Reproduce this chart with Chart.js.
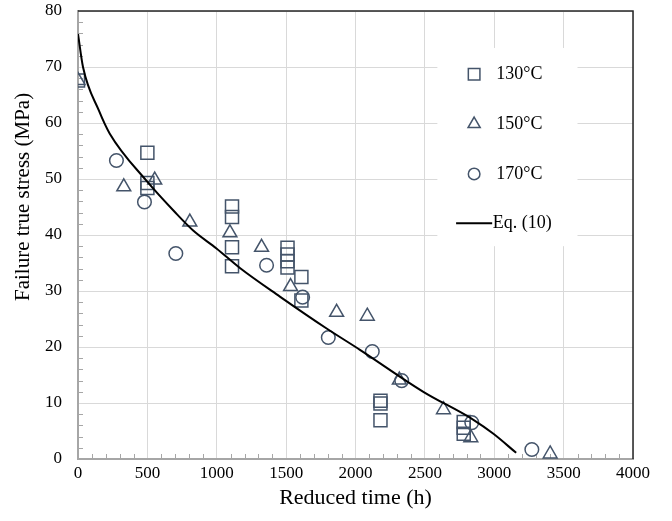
<!DOCTYPE html>
<html>
<head>
<meta charset="utf-8">
<script src="https://cdn.jsdelivr.net/npm/chart.js@4.4.1/dist/chart.umd.min.js"></script>
<style>
  html, body { margin: 0; padding: 0; background: #ffffff; }
  #wrap { width: 672px; height: 521px; }
</style>
</head>
<body>
<div id="wrap"><canvas id="c" width="672" height="521"></canvas></div>
<script>
// ---- Data ----
const seriesLabels = ['130°C', '150°C', '170°C', 'Eq. (10)'];
const xTitle = 'Reduced time (h)';
const yTitle = 'Failure true stress (MPa)';

const time130 = [0, 500, 500, 500, 1110, 1110, 1110, 1110, 1510, 1510, 1510, 1510, 1610, 1610, 2180, 2180, 2180, 2780, 2780, 2780];
const stress130 = [67.6, 54.7, 49.3, 48.4, 45.1, 43.2, 37.8, 34.4, 37.7, 36.5, 35.3, 34.2, 32.5, 28.3, 10.4, 9.9, 6.9, 6.6, 5.6, 4.5];

const time150 = [0, 330, 553, 806, 1095, 1323, 1532, 1864, 2085, 2316, 2634, 2831, 3403];
const stress150 = [67.6, 48.6, 49.8, 42.3, 40.4, 37.8, 30.8, 26.2, 25.5, 14.1, 8.8, 3.8, 0.9];

const time170 = [277, 479, 705, 1359, 1619, 1804, 2121, 2333, 2838, 3271];
const stress170 = [53.3, 45.9, 36.7, 34.6, 28.9, 21.7, 19.2, 14.0, 6.5, 1.7];

const timeEq = [0, 36, 151, 229, 493, 698, 830, 998, 1167, 1455, 1792, 2032, 2489, 2850, 2994, 3158];
const stressEq = [75.9, 70.0, 62.2, 58.1, 49.7, 44.1, 40.8, 37.6, 34.1, 29.0, 23.3, 19.5, 12.0, 7.0, 4.5, 1.1];

const xTickValues = [0, 500, 1000, 1500, 2000, 2500, 3000, 3500, 4000];
const yTickValues = [0, 10, 20, 30, 40, 50, 60, 70, 80];

// ---- Build ----
const toPts = (xs, ys) => xs.map((x, i) => ({ x: x, y: ys[i] }));
const markerColor = '#44546A';
const serif = '"Liberation Serif", "Times New Roman", serif';

const plotDecor = {
  id: 'plotDecor',
  beforeDatasetsDraw(chart) {
    const ctx = chart.ctx;
    const xs = chart.scales.x, ys = chart.scales.y;
    const a = chart.chartArea;
    ctx.save();
    // minor ticks (inside)
    ctx.strokeStyle = '#a6a6a6';
    ctx.lineWidth = 1;
    ctx.beginPath();
    for (let v = 100; v < 4000; v += 100) {
      if (v % 500 === 0) continue;
      const px = Math.round(xs.getPixelForValue(v)) + 0.5;
      ctx.moveTo(px, a.bottom);
      ctx.lineTo(px, a.bottom - 5);
    }
    for (let v = 2; v < 80; v += 2) {
      if (v % 10 === 0) continue;
      const py = Math.round(ys.getPixelForValue(v)) + 0.5;
      ctx.moveTo(a.left, py);
      ctx.lineTo(a.left + 5, py);
    }
    ctx.stroke();
    // top and right frame lines
    ctx.strokeStyle = '#262626';
    ctx.lineWidth = 1.5;
    ctx.beginPath();
    ctx.moveTo(a.left, a.top);
    ctx.lineTo(a.right, a.top);
    ctx.lineTo(a.right, a.bottom);
    ctx.stroke();
    // legend background
    const lx0 = xs.getPixelForValue(2590), lx1 = xs.getPixelForValue(3600);
    const ly0 = ys.getPixelForValue(73.4), ly1 = ys.getPixelForValue(38.0);
    ctx.fillStyle = '#ffffff';
    ctx.fillRect(lx0, ly0, lx1 - lx0, ly1 - ly0);
    // y-axis title (placed as in the reference, above centre)
    ctx.save();
    ctx.translate(23, ys.getPixelForValue(46.8));
    ctx.rotate(-Math.PI / 2);
    ctx.fillStyle = '#000000';
    ctx.font = '21px ' + serif;
    ctx.textAlign = 'center';
    ctx.textBaseline = 'middle';
    ctx.fillText(yTitle, 0, 0);
    ctx.restore();
    ctx.restore();
  },
  afterDatasetsDraw(chart) {
    const ctx = chart.ctx;
    const xs = chart.scales.x, ys = chart.scales.y;
    const markerX = xs.getPixelForValue(2855);
    const textX = xs.getPixelForValue(3015);
    const rowY = [68.7, 59.8, 50.9, 42.1].map(v => ys.getPixelForValue(v));
    const styles = [
      { pointStyle: 'rect', radius: 8.2 },
      { pointStyle: 'triangle', radius: 7 },
      { pointStyle: 'circle', radius: 5.8 }
    ];
    ctx.save();
    for (let i = 0; i < 3; i++) {
      ctx.strokeStyle = markerColor;
      ctx.fillStyle = 'rgba(0,0,0,0)';
      ctx.lineWidth = 1.5;
      Chart.helpers.drawPoint(ctx, { pointStyle: styles[i].pointStyle, radius: styles[i].radius, borderWidth: 1.5, rotation: 0 }, markerX, rowY[i]);
    }
    // line legend
    ctx.strokeStyle = '#000000';
    ctx.lineWidth = 2;
    ctx.beginPath();
    ctx.moveTo(xs.getPixelForValue(2725), rowY[3]);
    ctx.lineTo(xs.getPixelForValue(2985), rowY[3]);
    ctx.stroke();
    ctx.fillStyle = '#000000';
    ctx.font = '18px ' + serif;
    ctx.textBaseline = 'middle';
    ctx.textAlign = 'left';
    for (let i = 0; i < 3; i++) ctx.fillText(seriesLabels[i], textX, rowY[i]);
    ctx.fillText(seriesLabels[3], xs.getPixelForValue(2990), rowY[3]);
    ctx.restore();
  }
};

new Chart(document.getElementById('c'), {
  type: 'scatter',
  data: {
    datasets: [
      {
        label: seriesLabels[3], data: toPts(timeEq, stressEq), showLine: true,
        borderColor: '#000000', borderWidth: 2, pointRadius: 0, pointHoverRadius: 0,
        tension: 0.4, cubicInterpolationMode: 'monotone', fill: false, order: 0
      },
      {
        label: seriesLabels[0], data: toPts(time130, stress130), pointStyle: 'rect',
        pointRadius: 9.2, borderColor: markerColor, backgroundColor: 'rgba(0,0,0,0)',
        borderWidth: 1.5, order: 1
      },
      {
        label: seriesLabels[1], data: toPts(time150, stress150), pointStyle: 'triangle',
        pointRadius: 8, borderColor: markerColor, backgroundColor: 'rgba(0,0,0,0)',
        borderWidth: 1.5, order: 2
      },
      {
        label: seriesLabels[2], data: toPts(time170, stress170), pointStyle: 'circle',
        pointRadius: 6.8, borderColor: markerColor, backgroundColor: 'rgba(0,0,0,0)',
        borderWidth: 1.5, order: 3
      }
    ]
  },
  options: {
    responsive: false,
    animation: false,
    devicePixelRatio: 1,
    layout: { padding: { top: 11, right: 39, left: 0, bottom: 0 } },
    plugins: { legend: { display: false }, tooltip: { enabled: false } },
    scales: {
      x: {
        type: 'linear', min: 0, max: 4000,
        afterBuildTicks: s => { s.ticks = xTickValues.map(v => ({ value: v })); },
        afterFit: s => { s.height = 62; s.paddingLeft = 0; s.paddingRight = 0; },
        ticks: { color: '#000', font: { family: serif, size: 17 }, padding: 4, maxRotation: 0, callback: v => String(v) },
        grid: { color: '#d9d9d9', lineWidth: 1, drawTicks: false },
        border: { color: '#a6a6a6', width: 2 },
        title: { display: true, text: xTitle, color: '#000', font: { family: serif, size: 22 }, padding: { top: 0, bottom: 10 } }
      },
      y: {
        type: 'linear', min: 0, max: 80,
        afterBuildTicks: s => { s.ticks = yTickValues.map(v => ({ value: v })); },
        afterFit: s => { s.width = 78; s.paddingTop = 0; s.paddingBottom = 0; },
        ticks: { color: '#000', font: { family: serif, size: 17 }, padding: 16, callback: v => String(v) },
        grid: { color: '#d9d9d9', lineWidth: 1, drawTicks: false },
        border: { color: '#a6a6a6', width: 2 },
        title: { display: false }
      }
    }
  },
  plugins: [plotDecor]
});
</script>
</body>
</html>
